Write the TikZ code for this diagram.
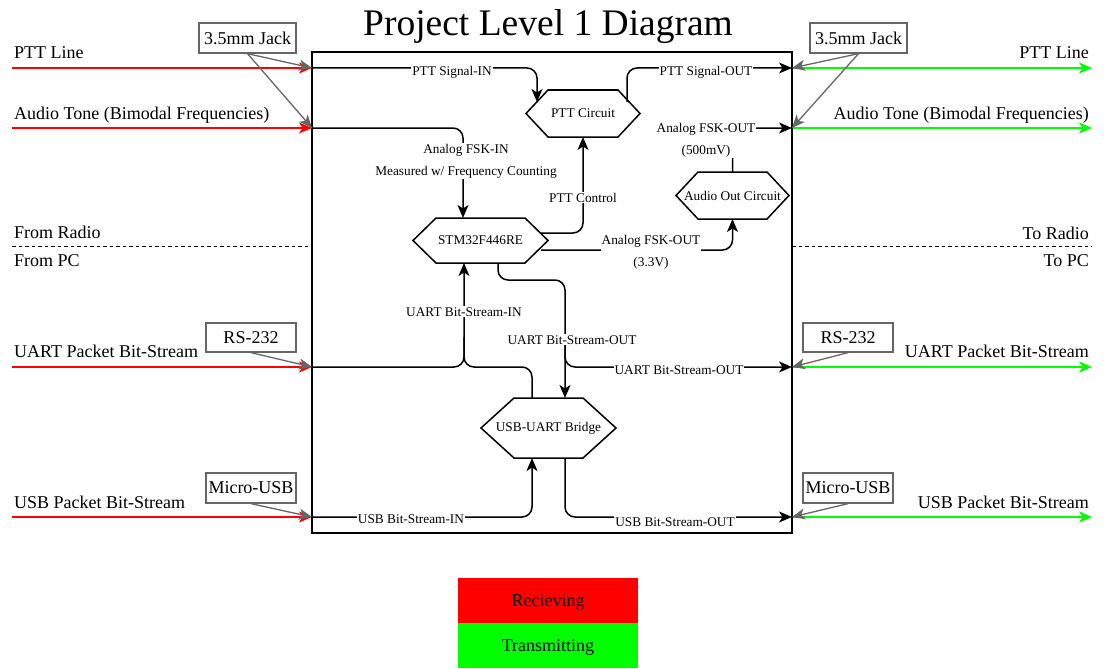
\documentclass[tikz,border=0pt]{standalone}
\usepackage{fontspec}
\setmainfont{Liberation Serif}
\usetikzlibrary{arrows.meta,calc}
\definecolor{rcv}{HTML}{FF0000}
\definecolor{tx}{HTML}{00FF00}
\definecolor{gry}{HTML}{666666}
\newcommand\myhex[7]{%
  \node[hexlabel, minimum width=#4pt, minimum height=#5pt] (#1) at (#2,#3) {#7};
  \draw[hexline] (#1.west) -- ($(#1.north west)+(#6,0)$) -- ($(#1.north east)+(-#6,0)$) -- (#1.east)
     -- ($(#1.south east)+(-#6,0)$) -- ($(#1.south west)+(#6,0)$) -- cycle;
}
\begin{document}
\begin{tikzpicture}[x=1pt,y=-1pt,
  big/.style={font=\fontsize{18}{21}\selectfont, inner sep=0pt},
  small/.style={font=\fontsize{13.3}{22}\selectfont, inner sep=1pt, fill=white, align=center},
  hexlabel/.style={font=\fontsize{13.3}{16}\selectfont, inner sep=0pt, outer sep=0pt, rectangle},
  hexline/.style={line width=1.5pt, line join=miter},
  tip/.style={-{Stealth[length=13pt,width=11pt,inset=3.5pt]}},
  conn/.style={line width=1.5pt, rounded corners=10pt, tip},
  plainconn/.style={line width=1.5pt, rounded corners=10pt},
  rxline/.style={draw=rcv, line width=1.4pt, tip, color=rcv},
  txline/.style={draw=tx, line width=1.4pt, tip, color=tx},
  gconn/.style={draw=gry, line width=1.3pt, tip, color=gry},
  jack/.style={draw=gry, line width=1.3pt, font=\fontsize{18}{21}\selectfont, inner sep=0pt, minimum height=30pt},
  sep/.style={line width=1pt, dash pattern=on 3.5pt off 3pt},
  legend/.style={font=\fontsize{18}{21}\selectfont, minimum width=180pt, minimum height=45pt, inner sep=0pt, text height=16.4pt, text depth=4pt}
]
\useasboundingbox (0,0) rectangle (1106,669);

% port coordinates
\coordinate (L1) at (312,68);
\coordinate (L2) at (312,128);
\coordinate (L3) at (312,367);
\coordinate (L4) at (312,517);
\coordinate (R1) at (792,68);
\coordinate (R2) at (792,128);
\coordinate (R3) at (792,367);
\coordinate (R4) at (792,517);
\coordinate (xL1) at (12,68);
\coordinate (xL2) at (12,128);
\coordinate (xL3) at (12,367);
\coordinate (xL4) at (12,517);
\coordinate (xR1) at (1092,68);
\coordinate (xR2) at (1092,128);
\coordinate (xR3) at (1092,367);
\coordinate (xR4) at (1092,517);
\coordinate (dL0) at (12,246);
\coordinate (dL1) at (312,246);
\coordinate (dR0) at (792,246);
\coordinate (dR1) at (1092,246);

% title
\node[font=\fontsize{37.5}{40}\selectfont, inner sep=0pt, anchor=base] (title) at (548,36) {Project Level 1 Diagram};

% outside lines
\draw[rxline] (xL1) -- (L1);
\draw[rxline] (xL2) -- (L2);
\draw[rxline] (xL3) -- (L3);
\draw[rxline] (xL4) -- (L4);
\draw[txline] (R1) -- (xR1);
\draw[txline] (R2) -- (xR2);
\draw[txline] (R3) -- (xR3);
\draw[txline] (R4) -- (xR4);
\draw[sep] (dL0) -- (dL1);
\draw[sep] (dR0) -- (dR1);

% outside labels
\node[big, anchor=base west] (tL1) at (14,59) {PTT Line};
\node[big, anchor=base west] (tL2) at (14,119) {Audio Tone (Bimodal Frequencies)};
\node[big, anchor=base west] (tL3) at (14,238) {From Radio};
\node[big, anchor=base west] (tL4) at (14,266) {From PC};
\node[big, anchor=base west] (tL5) at (14,357) {UART Packet Bit-Stream};
\node[big, anchor=base west] (tL6) at (14,508) {USB Packet Bit-Stream};
\node[big, anchor=base east] (tR1) at (1089,59) {PTT Line};
\node[big, anchor=base east] (tR2) at (1089,119) {Audio Tone (Bimodal Frequencies)};
\node[big, anchor=base east] (tR3) at (1089,239) {To Radio};
\node[big, anchor=base east] (tR4) at (1089,266) {To PC};
\node[big, anchor=base east] (tR5) at (1089,357) {UART Packet Bit-Stream};
\node[big, anchor=base east] (tR6) at (1089,508) {USB Packet Bit-Stream};

% main box
\node[draw, line width=1.4pt, minimum width=480pt, minimum height=481pt, inner sep=0pt, outer sep=0pt] (main) at (552,292.5) {};

% blocks
\myhex{ptt}{583}{113.5}{114}{47}{22}{PTT Circuit}
\myhex{stm}{480.5}{240.5}{135}{45}{23}{STM32F446RE}
\myhex{aud}{732.5}{195.5}{113}{47}{22}{Audio Out Circuit}
\myhex{usb}{548.5}{428}{135}{60}{33}{USB-UART Bridge}

% connection points on blocks
\coordinate (pttIn) at (537,102);
\coordinate (pttOut) at (627,102);
\coordinate (stmTop) at ($(stm.north)+(-17.5,0)$);
\coordinate (stmCtl) at (540,233);
\coordinate (stmFsk) at (541,250);
\coordinate (stmB1) at ($(stm.south)+(-16.5,0)$);
\coordinate (stmB2) at ($(stm.south)+(17.5,0)$);
\coordinate (usbT1) at ($(usb.north)+(-16.5,0)$);
\coordinate (usbT2) at ($(usb.north)+(16.5,0)$);
\coordinate (usbB1) at ($(usb.south)+(-16.5,0)$);
\coordinate (usbB2) at ($(usb.south)+(16.5,0)$);

% internal connectors
\draw[conn] (L1) -| (pttIn);
\draw[conn] (pttOut) |- (R1);
\draw[conn] (L2) -| (stmTop);
\draw[conn] (stmCtl) -| (ptt.south);
\draw[conn] (stmFsk) -| (aud.south);
\draw[conn] (aud.north) |- (R2);
\draw[conn] (L3) -| (stmB1);
\draw[plainconn] (usbT1) |- (stmB1 |- L3) -- ($(stmB1 |- L3)+(0,-30)$);
\draw[conn] (stmB2) -- ($(stmB2)+(0,17)$) -| (usbT2);
\draw[conn] ($(usbT2 |- R3)+(0,-30)$) |- (R3);
\draw[conn] (L4) -| (usbB1);
\draw[conn] (usbB2) |- (R4);

% connector labels
\node[small, anchor=base] (lb1) at (452,76) {PTT Signal-IN};
\node[small, anchor=base] (lb2) at (706,76) {PTT Signal-OUT};
\node[small] (lb3) at (466,161) {Analog FSK-IN\\Measured w/ Frequency Counting};
\node[small, anchor=base] (lb4) at (583,202) {PTT Control};
\node[small] (lb5) at (651,252.7) {Analog FSK-OUT\\(3.3V)};
\node[small] (lb6) at (706,140) {Analog FSK-OUT\\(500mV)};
\node[small, anchor=base] (lb7) at (464,316) {UART Bit-Stream-IN};
\node[small, anchor=base] (lb8) at (572,344) {UART Bit-Stream-OUT};
\node[small, anchor=base] (lb9) at (679,374) {UART Bit-Stream-OUT};
\node[small, anchor=base] (lb10) at (411,523) {USB Bit-Stream-IN};
\node[small, anchor=base] (lb11) at (675,526) {USB Bit-Stream-OUT};

% connector boxes
\node[jack, minimum width=97pt] (jackL) at (247.5,38) {3.5mm Jack};
\node[jack, minimum width=97pt] (jackR) at (858.5,38) {3.5mm Jack};
\node[jack, minimum width=90pt, minimum height=29pt] (rsL) at (251,337.5) {RS-232};
\node[jack, minimum width=90pt, minimum height=29pt] (rsR) at (848,337.5) {RS-232};
\node[jack, minimum width=90pt] (muL) at (251,488) {Micro-USB};
\node[jack, minimum width=90pt] (muR) at (848,488) {Micro-USB};
\draw[gconn] (jackL.south) -- (L1);
\draw[gconn] (jackL.south) -- (L2);
\draw[gconn] (jackR.south) -- (R1);
\draw[gconn] (jackR.south) -- (R2);
\draw[gconn] (rsL.south) -- (L3);
\draw[gconn] (rsR.south) -- (R3);
\draw[gconn] (muL.south) -- (L4);
\draw[gconn] (muR.south) -- (R4);

% legend
\node[legend, fill=rcv] (leg1) at (548,600.5) {Recieving};
\node[legend, fill=tx] (leg2) at (548,645.5) {Transmitting};
\end{tikzpicture}
\end{document}
